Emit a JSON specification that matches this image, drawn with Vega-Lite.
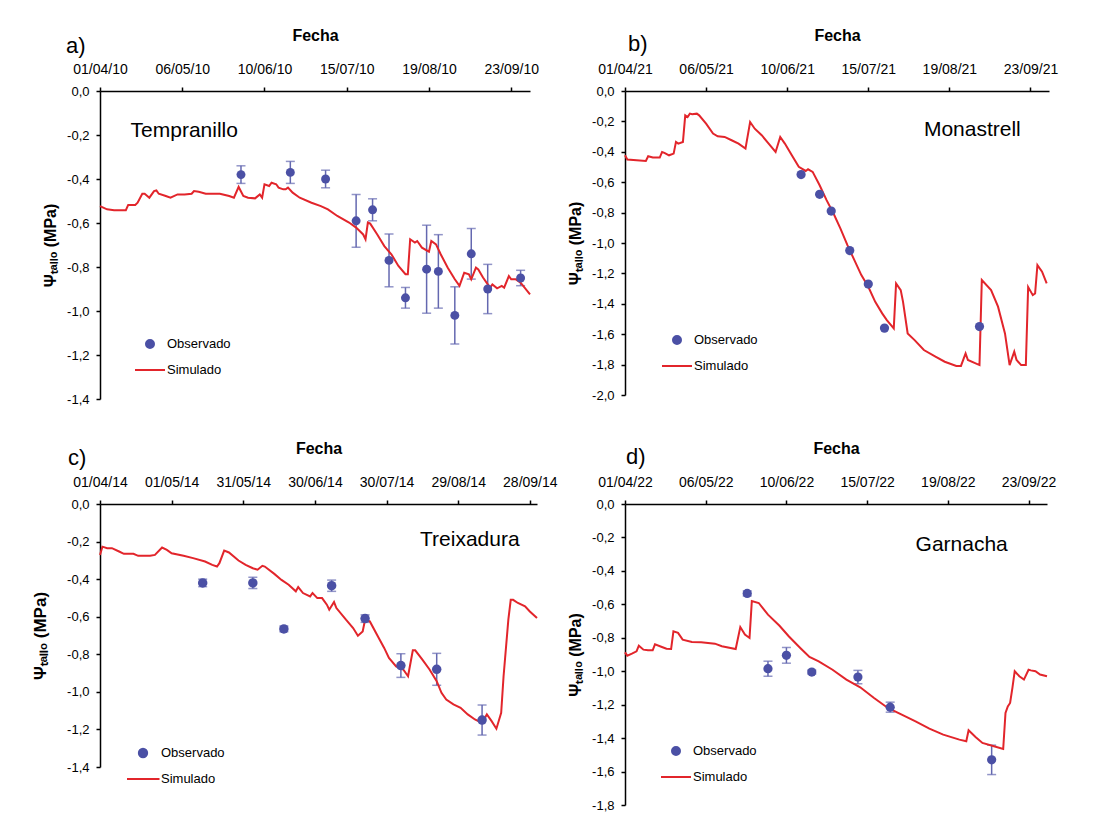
{
  "$schema": "https://vega.github.io/schema/vega-lite/v6.json",
  "background": "white",
  "padding": {"left": 31, "top": 27, "right": 5, "bottom": 5},
  "columns": 2,
  "bounds": "flush",
  "spacing": {"row": 105, "column": 88},
  "resolve": {"scale": {"color": "independent"}, "legend": {"color": "independent"}},
  "config": {
    "font": "Liberation Sans",
    "view": {"stroke": null},
    "axis": {"domainColor": "#000", "domainWidth": 1.5, "tickColor": "#000", "tickWidth": 1.5, "tickSize": 4, "labelColor": "#000", "labelFont": "Liberation Sans", "grid": false, "labelFlush": false, "labelOverlap": false, "labelBound": false, "titleColor": "#000", "titleFont": "Liberation Sans", "titleFontWeight": "bold"},
    "axisX": {"labelFontSize": 14, "labelPadding": 11, "titleFontSize": 16, "titlePadding": 19},
    "axisY": {"labelFontSize": 13, "labelPadding": 7, "titleFontSize": 16},
    "legend": {"labelFontSize": 13, "labelColor": "#000", "labelFont": "Liberation Sans", "symbolSize": 900, "clipHeight": 26, "rowPadding": 0, "padding": 0, "labelOffset": 4, "symbolStrokeWidth": 2},
    "title": {"font": "Liberation Sans", "fontSize": 22, "fontWeight": "normal", "color": "#000", "anchor": "start", "frame": "group", "offset": 0}
  },
  "datasets": {
    "obs_a": [
      {"fecha": "2010-05-31", "psi": -0.38, "err": 0.04, "serie": "Observado"},
      {"fecha": "2010-06-21", "psi": -0.37, "err": 0.05, "serie": "Observado"},
      {"fecha": "2010-07-06", "psi": -0.40, "err": 0.04, "serie": "Observado"},
      {"fecha": "2010-07-19", "psi": -0.59, "err": 0.12, "serie": "Observado"},
      {"fecha": "2010-07-26", "psi": -0.54, "err": 0.05, "serie": "Observado"},
      {"fecha": "2010-08-02", "psi": -0.77, "err": 0.12, "serie": "Observado"},
      {"fecha": "2010-08-09", "psi": -0.94, "err": 0.047, "serie": "Observado"},
      {"fecha": "2010-08-18", "psi": -0.81, "err": 0.20, "serie": "Observado"},
      {"fecha": "2010-08-23", "psi": -0.82, "err": 0.167, "serie": "Observado"},
      {"fecha": "2010-08-30", "psi": -1.02, "err": 0.13, "serie": "Observado"},
      {"fecha": "2010-09-06", "psi": -0.74, "err": 0.115, "serie": "Observado"},
      {"fecha": "2010-09-13", "psi": -0.90, "err": 0.112, "serie": "Observado"},
      {"fecha": "2010-09-27", "psi": -0.85, "err": 0.035, "serie": "Observado"}
    ],
    "sim_a": [
      {"fecha": "2010-04-01", "psi": -0.523, "serie": "Simulado"},
      {"fecha": "2010-04-04", "psi": -0.538, "serie": "Simulado"},
      {"fecha": "2010-04-07", "psi": -0.542, "serie": "Simulado"},
      {"fecha": "2010-04-12", "psi": -0.542, "serie": "Simulado"},
      {"fecha": "2010-04-13", "psi": -0.518, "serie": "Simulado"},
      {"fecha": "2010-04-16", "psi": -0.518, "serie": "Simulado"},
      {"fecha": "2010-04-17", "psi": -0.508, "serie": "Simulado"},
      {"fecha": "2010-04-19", "psi": -0.467, "serie": "Simulado"},
      {"fecha": "2010-04-20", "psi": -0.467, "serie": "Simulado"},
      {"fecha": "2010-04-22", "psi": -0.485, "serie": "Simulado"},
      {"fecha": "2010-04-24", "psi": -0.455, "serie": "Simulado"},
      {"fecha": "2010-04-25", "psi": -0.452, "serie": "Simulado"},
      {"fecha": "2010-04-26", "psi": -0.467, "serie": "Simulado"},
      {"fecha": "2010-04-29", "psi": -0.477, "serie": "Simulado"},
      {"fecha": "2010-05-01", "psi": -0.485, "serie": "Simulado"},
      {"fecha": "2010-05-04", "psi": -0.470, "serie": "Simulado"},
      {"fecha": "2010-05-07", "psi": -0.470, "serie": "Simulado"},
      {"fecha": "2010-05-10", "psi": -0.467, "serie": "Simulado"},
      {"fecha": "2010-05-11", "psi": -0.455, "serie": "Simulado"},
      {"fecha": "2010-05-13", "psi": -0.458, "serie": "Simulado"},
      {"fecha": "2010-05-16", "psi": -0.467, "serie": "Simulado"},
      {"fecha": "2010-05-22", "psi": -0.467, "serie": "Simulado"},
      {"fecha": "2010-05-26", "psi": -0.477, "serie": "Simulado"},
      {"fecha": "2010-05-28", "psi": -0.485, "serie": "Simulado"},
      {"fecha": "2010-05-30", "psi": -0.436, "serie": "Simulado"},
      {"fecha": "2010-06-01", "psi": -0.477, "serie": "Simulado"},
      {"fecha": "2010-06-03", "psi": -0.485, "serie": "Simulado"},
      {"fecha": "2010-06-06", "psi": -0.488, "serie": "Simulado"},
      {"fecha": "2010-06-08", "psi": -0.470, "serie": "Simulado"},
      {"fecha": "2010-06-09", "psi": -0.485, "serie": "Simulado"},
      {"fecha": "2010-06-10", "psi": -0.424, "serie": "Simulado"},
      {"fecha": "2010-06-12", "psi": -0.432, "serie": "Simulado"},
      {"fecha": "2010-06-13", "psi": -0.417, "serie": "Simulado"},
      {"fecha": "2010-06-15", "psi": -0.424, "serie": "Simulado"},
      {"fecha": "2010-06-16", "psi": -0.439, "serie": "Simulado"},
      {"fecha": "2010-06-18", "psi": -0.447, "serie": "Simulado"},
      {"fecha": "2010-06-19", "psi": -0.447, "serie": "Simulado"},
      {"fecha": "2010-06-20", "psi": -0.439, "serie": "Simulado"},
      {"fecha": "2010-06-22", "psi": -0.462, "serie": "Simulado"},
      {"fecha": "2010-06-25", "psi": -0.485, "serie": "Simulado"},
      {"fecha": "2010-06-30", "psi": -0.508, "serie": "Simulado"},
      {"fecha": "2010-07-04", "psi": -0.523, "serie": "Simulado"},
      {"fecha": "2010-07-07", "psi": -0.538, "serie": "Simulado"},
      {"fecha": "2010-07-11", "psi": -0.568, "serie": "Simulado"},
      {"fecha": "2010-07-16", "psi": -0.598, "serie": "Simulado"},
      {"fecha": "2010-07-19", "psi": -0.621, "serie": "Simulado"},
      {"fecha": "2010-07-22", "psi": -0.652, "serie": "Simulado"},
      {"fecha": "2010-07-23", "psi": -0.674, "serie": "Simulado"},
      {"fecha": "2010-07-24", "psi": -0.598, "serie": "Simulado"},
      {"fecha": "2010-07-25", "psi": -0.603, "serie": "Simulado"},
      {"fecha": "2010-07-28", "psi": -0.652, "serie": "Simulado"},
      {"fecha": "2010-07-31", "psi": -0.705, "serie": "Simulado"},
      {"fecha": "2010-08-03", "psi": -0.742, "serie": "Simulado"},
      {"fecha": "2010-08-06", "psi": -0.795, "serie": "Simulado"},
      {"fecha": "2010-08-09", "psi": -0.833, "serie": "Simulado"},
      {"fecha": "2010-08-10", "psi": -0.833, "serie": "Simulado"},
      {"fecha": "2010-08-11", "psi": -0.674, "serie": "Simulado"},
      {"fecha": "2010-08-13", "psi": -0.689, "serie": "Simulado"},
      {"fecha": "2010-08-14", "psi": -0.682, "serie": "Simulado"},
      {"fecha": "2010-08-16", "psi": -0.712, "serie": "Simulado"},
      {"fecha": "2010-08-19", "psi": -0.730, "serie": "Simulado"},
      {"fecha": "2010-08-20", "psi": -0.682, "serie": "Simulado"},
      {"fecha": "2010-08-22", "psi": -0.697, "serie": "Simulado"},
      {"fecha": "2010-08-24", "psi": -0.742, "serie": "Simulado"},
      {"fecha": "2010-08-27", "psi": -0.803, "serie": "Simulado"},
      {"fecha": "2010-08-30", "psi": -0.856, "serie": "Simulado"},
      {"fecha": "2010-09-01", "psi": -0.886, "serie": "Simulado"},
      {"fecha": "2010-09-03", "psi": -0.826, "serie": "Simulado"},
      {"fecha": "2010-09-05", "psi": -0.833, "serie": "Simulado"},
      {"fecha": "2010-09-06", "psi": -0.856, "serie": "Simulado"},
      {"fecha": "2010-09-08", "psi": -0.803, "serie": "Simulado"},
      {"fecha": "2010-09-09", "psi": -0.811, "serie": "Simulado"},
      {"fecha": "2010-09-11", "psi": -0.848, "serie": "Simulado"},
      {"fecha": "2010-09-14", "psi": -0.894, "serie": "Simulado"},
      {"fecha": "2010-09-15", "psi": -0.879, "serie": "Simulado"},
      {"fecha": "2010-09-17", "psi": -0.897, "serie": "Simulado"},
      {"fecha": "2010-09-19", "psi": -0.886, "serie": "Simulado"},
      {"fecha": "2010-09-20", "psi": -0.894, "serie": "Simulado"},
      {"fecha": "2010-09-22", "psi": -0.841, "serie": "Simulado"},
      {"fecha": "2010-09-23", "psi": -0.856, "serie": "Simulado"},
      {"fecha": "2010-09-25", "psi": -0.856, "serie": "Simulado"},
      {"fecha": "2010-09-27", "psi": -0.871, "serie": "Simulado"},
      {"fecha": "2010-10-01", "psi": -0.924, "serie": "Simulado"}
    ],
    "obs_b": [
      {"fecha": "2021-06-16", "psi": -0.55, "serie": "Observado"},
      {"fecha": "2021-06-24", "psi": -0.68, "serie": "Observado"},
      {"fecha": "2021-06-29", "psi": -0.79, "serie": "Observado"},
      {"fecha": "2021-07-07", "psi": -1.05, "serie": "Observado"},
      {"fecha": "2021-07-15", "psi": -1.27, "serie": "Observado"},
      {"fecha": "2021-07-22", "psi": -1.56, "serie": "Observado"},
      {"fecha": "2021-09-01", "psi": -1.55, "serie": "Observado"}
    ],
    "sim_b": [
      {"fecha": "2021-04-01", "psi": -0.423, "serie": "Simulado"},
      {"fecha": "2021-04-02", "psi": -0.451, "serie": "Simulado"},
      {"fecha": "2021-04-06", "psi": -0.456, "serie": "Simulado"},
      {"fecha": "2021-04-10", "psi": -0.460, "serie": "Simulado"},
      {"fecha": "2021-04-11", "psi": -0.429, "serie": "Simulado"},
      {"fecha": "2021-04-13", "psi": -0.438, "serie": "Simulado"},
      {"fecha": "2021-04-16", "psi": -0.438, "serie": "Simulado"},
      {"fecha": "2021-04-17", "psi": -0.401, "serie": "Simulado"},
      {"fecha": "2021-04-18", "psi": -0.407, "serie": "Simulado"},
      {"fecha": "2021-04-20", "psi": -0.423, "serie": "Simulado"},
      {"fecha": "2021-04-22", "psi": -0.412, "serie": "Simulado"},
      {"fecha": "2021-04-23", "psi": -0.335, "serie": "Simulado"},
      {"fecha": "2021-04-24", "psi": -0.346, "serie": "Simulado"},
      {"fecha": "2021-04-26", "psi": -0.335, "serie": "Simulado"},
      {"fecha": "2021-04-27", "psi": -0.160, "serie": "Simulado"},
      {"fecha": "2021-04-28", "psi": -0.171, "serie": "Simulado"},
      {"fecha": "2021-04-29", "psi": -0.149, "serie": "Simulado"},
      {"fecha": "2021-04-30", "psi": -0.153, "serie": "Simulado"},
      {"fecha": "2021-05-02", "psi": -0.149, "serie": "Simulado"},
      {"fecha": "2021-05-03", "psi": -0.160, "serie": "Simulado"},
      {"fecha": "2021-05-06", "psi": -0.215, "serie": "Simulado"},
      {"fecha": "2021-05-09", "psi": -0.280, "serie": "Simulado"},
      {"fecha": "2021-05-11", "psi": -0.298, "serie": "Simulado"},
      {"fecha": "2021-05-14", "psi": -0.302, "serie": "Simulado"},
      {"fecha": "2021-05-17", "psi": -0.324, "serie": "Simulado"},
      {"fecha": "2021-05-20", "psi": -0.346, "serie": "Simulado"},
      {"fecha": "2021-05-23", "psi": -0.379, "serie": "Simulado"},
      {"fecha": "2021-05-25", "psi": -0.204, "serie": "Simulado"},
      {"fecha": "2021-05-27", "psi": -0.248, "serie": "Simulado"},
      {"fecha": "2021-05-30", "psi": -0.291, "serie": "Simulado"},
      {"fecha": "2021-06-02", "psi": -0.346, "serie": "Simulado"},
      {"fecha": "2021-06-05", "psi": -0.401, "serie": "Simulado"},
      {"fecha": "2021-06-07", "psi": -0.302, "serie": "Simulado"},
      {"fecha": "2021-06-09", "psi": -0.346, "serie": "Simulado"},
      {"fecha": "2021-06-12", "psi": -0.423, "serie": "Simulado"},
      {"fecha": "2021-06-15", "psi": -0.499, "serie": "Simulado"},
      {"fecha": "2021-06-18", "psi": -0.526, "serie": "Simulado"},
      {"fecha": "2021-06-19", "psi": -0.515, "serie": "Simulado"},
      {"fecha": "2021-06-21", "psi": -0.532, "serie": "Simulado"},
      {"fecha": "2021-06-24", "psi": -0.620, "serie": "Simulado"},
      {"fecha": "2021-06-27", "psi": -0.718, "serie": "Simulado"},
      {"fecha": "2021-06-30", "psi": -0.806, "serie": "Simulado"},
      {"fecha": "2021-07-03", "psi": -0.905, "serie": "Simulado"},
      {"fecha": "2021-07-06", "psi": -1.014, "serie": "Simulado"},
      {"fecha": "2021-07-09", "psi": -1.113, "serie": "Simulado"},
      {"fecha": "2021-07-12", "psi": -1.211, "serie": "Simulado"},
      {"fecha": "2021-07-15", "psi": -1.288, "serie": "Simulado"},
      {"fecha": "2021-07-18", "psi": -1.387, "serie": "Simulado"},
      {"fecha": "2021-07-21", "psi": -1.463, "serie": "Simulado"},
      {"fecha": "2021-07-23", "psi": -1.507, "serie": "Simulado"},
      {"fecha": "2021-07-26", "psi": -1.562, "serie": "Simulado"},
      {"fecha": "2021-07-27", "psi": -1.266, "serie": "Simulado"},
      {"fecha": "2021-07-29", "psi": -1.310, "serie": "Simulado"},
      {"fecha": "2021-07-30", "psi": -1.387, "serie": "Simulado"},
      {"fecha": "2021-08-01", "psi": -1.595, "serie": "Simulado"},
      {"fecha": "2021-08-04", "psi": -1.639, "serie": "Simulado"},
      {"fecha": "2021-08-08", "psi": -1.704, "serie": "Simulado"},
      {"fecha": "2021-08-13", "psi": -1.748, "serie": "Simulado"},
      {"fecha": "2021-08-17", "psi": -1.781, "serie": "Simulado"},
      {"fecha": "2021-08-22", "psi": -1.809, "serie": "Simulado"},
      {"fecha": "2021-08-24", "psi": -1.809, "serie": "Simulado"},
      {"fecha": "2021-08-26", "psi": -1.726, "serie": "Simulado"},
      {"fecha": "2021-08-27", "psi": -1.770, "serie": "Simulado"},
      {"fecha": "2021-09-01", "psi": -1.803, "serie": "Simulado"},
      {"fecha": "2021-09-02", "psi": -1.244, "serie": "Simulado"},
      {"fecha": "2021-09-06", "psi": -1.310, "serie": "Simulado"},
      {"fecha": "2021-09-09", "psi": -1.419, "serie": "Simulado"},
      {"fecha": "2021-09-12", "psi": -1.595, "serie": "Simulado"},
      {"fecha": "2021-09-14", "psi": -1.803, "serie": "Simulado"},
      {"fecha": "2021-09-16", "psi": -1.715, "serie": "Simulado"},
      {"fecha": "2021-09-17", "psi": -1.770, "serie": "Simulado"},
      {"fecha": "2021-09-19", "psi": -1.803, "serie": "Simulado"},
      {"fecha": "2021-09-21", "psi": -1.803, "serie": "Simulado"},
      {"fecha": "2021-09-22", "psi": -1.290, "serie": "Simulado"},
      {"fecha": "2021-09-24", "psi": -1.343, "serie": "Simulado"},
      {"fecha": "2021-09-25", "psi": -1.332, "serie": "Simulado"},
      {"fecha": "2021-09-26", "psi": -1.146, "serie": "Simulado"},
      {"fecha": "2021-09-28", "psi": -1.189, "serie": "Simulado"},
      {"fecha": "2021-09-30", "psi": -1.266, "serie": "Simulado"}
    ],
    "obs_c": [
      {"fecha": "2014-05-14", "psi": -0.42, "err": 0.02, "serie": "Observado"},
      {"fecha": "2014-06-04", "psi": -0.42, "err": 0.03, "serie": "Observado"},
      {"fecha": "2014-06-17", "psi": -0.665, "err": 0.015, "serie": "Observado"},
      {"fecha": "2014-07-07", "psi": -0.435, "err": 0.03, "serie": "Observado"},
      {"fecha": "2014-07-21", "psi": -0.61, "err": 0.02, "serie": "Observado"},
      {"fecha": "2014-08-05", "psi": -0.86, "err": 0.063, "serie": "Observado"},
      {"fecha": "2014-08-20", "psi": -0.88, "err": 0.085, "serie": "Observado"},
      {"fecha": "2014-09-08", "psi": -1.15, "err": 0.08, "serie": "Observado"}
    ],
    "sim_c": [
      {"fecha": "2014-04-01", "psi": -0.271, "serie": "Simulado"},
      {"fecha": "2014-04-02", "psi": -0.227, "serie": "Simulado"},
      {"fecha": "2014-04-04", "psi": -0.235, "serie": "Simulado"},
      {"fecha": "2014-04-06", "psi": -0.235, "serie": "Simulado"},
      {"fecha": "2014-04-09", "psi": -0.253, "serie": "Simulado"},
      {"fecha": "2014-04-11", "psi": -0.265, "serie": "Simulado"},
      {"fecha": "2014-04-15", "psi": -0.265, "serie": "Simulado"},
      {"fecha": "2014-04-17", "psi": -0.276, "serie": "Simulado"},
      {"fecha": "2014-04-22", "psi": -0.276, "serie": "Simulado"},
      {"fecha": "2014-04-24", "psi": -0.271, "serie": "Simulado"},
      {"fecha": "2014-04-27", "psi": -0.232, "serie": "Simulado"},
      {"fecha": "2014-04-29", "psi": -0.244, "serie": "Simulado"},
      {"fecha": "2014-05-01", "psi": -0.262, "serie": "Simulado"},
      {"fecha": "2014-05-06", "psi": -0.276, "serie": "Simulado"},
      {"fecha": "2014-05-10", "psi": -0.288, "serie": "Simulado"},
      {"fecha": "2014-05-15", "psi": -0.306, "serie": "Simulado"},
      {"fecha": "2014-05-18", "psi": -0.324, "serie": "Simulado"},
      {"fecha": "2014-05-20", "psi": -0.333, "serie": "Simulado"},
      {"fecha": "2014-05-21", "psi": -0.315, "serie": "Simulado"},
      {"fecha": "2014-05-23", "psi": -0.248, "serie": "Simulado"},
      {"fecha": "2014-05-25", "psi": -0.258, "serie": "Simulado"},
      {"fecha": "2014-05-29", "psi": -0.301, "serie": "Simulado"},
      {"fecha": "2014-06-01", "psi": -0.324, "serie": "Simulado"},
      {"fecha": "2014-06-04", "psi": -0.342, "serie": "Simulado"},
      {"fecha": "2014-06-06", "psi": -0.350, "serie": "Simulado"},
      {"fecha": "2014-06-08", "psi": -0.329, "serie": "Simulado"},
      {"fecha": "2014-06-09", "psi": -0.333, "serie": "Simulado"},
      {"fecha": "2014-06-13", "psi": -0.372, "serie": "Simulado"},
      {"fecha": "2014-06-16", "psi": -0.404, "serie": "Simulado"},
      {"fecha": "2014-06-19", "psi": -0.430, "serie": "Simulado"},
      {"fecha": "2014-06-22", "psi": -0.465, "serie": "Simulado"},
      {"fecha": "2014-06-23", "psi": -0.442, "serie": "Simulado"},
      {"fecha": "2014-06-25", "psi": -0.474, "serie": "Simulado"},
      {"fecha": "2014-06-28", "psi": -0.492, "serie": "Simulado"},
      {"fecha": "2014-06-29", "psi": -0.474, "serie": "Simulado"},
      {"fecha": "2014-07-01", "psi": -0.501, "serie": "Simulado"},
      {"fecha": "2014-07-03", "psi": -0.501, "serie": "Simulado"},
      {"fecha": "2014-07-05", "psi": -0.536, "serie": "Simulado"},
      {"fecha": "2014-07-06", "psi": -0.563, "serie": "Simulado"},
      {"fecha": "2014-07-08", "psi": -0.522, "serie": "Simulado"},
      {"fecha": "2014-07-09", "psi": -0.554, "serie": "Simulado"},
      {"fecha": "2014-07-13", "psi": -0.616, "serie": "Simulado"},
      {"fecha": "2014-07-16", "psi": -0.660, "serie": "Simulado"},
      {"fecha": "2014-07-18", "psi": -0.701, "serie": "Simulado"},
      {"fecha": "2014-07-20", "psi": -0.678, "serie": "Simulado"},
      {"fecha": "2014-07-21", "psi": -0.616, "serie": "Simulado"},
      {"fecha": "2014-07-23", "psi": -0.625, "serie": "Simulado"},
      {"fecha": "2014-07-26", "psi": -0.696, "serie": "Simulado"},
      {"fecha": "2014-07-29", "psi": -0.766, "serie": "Simulado"},
      {"fecha": "2014-07-31", "psi": -0.819, "serie": "Simulado"},
      {"fecha": "2014-08-03", "psi": -0.864, "serie": "Simulado"},
      {"fecha": "2014-08-06", "psi": -0.881, "serie": "Simulado"},
      {"fecha": "2014-08-08", "psi": -0.917, "serie": "Simulado"},
      {"fecha": "2014-08-10", "psi": -0.779, "serie": "Simulado"},
      {"fecha": "2014-08-11", "psi": -0.779, "serie": "Simulado"},
      {"fecha": "2014-08-14", "psi": -0.828, "serie": "Simulado"},
      {"fecha": "2014-08-17", "psi": -0.881, "serie": "Simulado"},
      {"fecha": "2014-08-20", "psi": -0.943, "serie": "Simulado"},
      {"fecha": "2014-08-22", "psi": -1.005, "serie": "Simulado"},
      {"fecha": "2014-08-24", "psi": -1.041, "serie": "Simulado"},
      {"fecha": "2014-08-27", "psi": -1.067, "serie": "Simulado"},
      {"fecha": "2014-08-30", "psi": -1.085, "serie": "Simulado"},
      {"fecha": "2014-09-02", "psi": -1.120, "serie": "Simulado"},
      {"fecha": "2014-09-05", "psi": -1.147, "serie": "Simulado"},
      {"fecha": "2014-09-08", "psi": -1.165, "serie": "Simulado"},
      {"fecha": "2014-09-10", "psi": -1.120, "serie": "Simulado"},
      {"fecha": "2014-09-12", "psi": -1.156, "serie": "Simulado"},
      {"fecha": "2014-09-14", "psi": -1.196, "serie": "Simulado"},
      {"fecha": "2014-09-16", "psi": -1.112, "serie": "Simulado"},
      {"fecha": "2014-09-17", "psi": -0.917, "serie": "Simulado"},
      {"fecha": "2014-09-19", "psi": -0.616, "serie": "Simulado"},
      {"fecha": "2014-09-20", "psi": -0.510, "serie": "Simulado"},
      {"fecha": "2014-09-21", "psi": -0.510, "serie": "Simulado"},
      {"fecha": "2014-09-23", "psi": -0.527, "serie": "Simulado"},
      {"fecha": "2014-09-26", "psi": -0.545, "serie": "Simulado"},
      {"fecha": "2014-09-28", "psi": -0.572, "serie": "Simulado"},
      {"fecha": "2014-10-01", "psi": -0.607, "serie": "Simulado"}
    ],
    "obs_d": [
      {"fecha": "2022-05-24", "psi": -0.535, "err": 0.015, "serie": "Observado"},
      {"fecha": "2022-06-02", "psi": -0.985, "err": 0.045, "serie": "Observado"},
      {"fecha": "2022-06-10", "psi": -0.905, "err": 0.047, "serie": "Observado"},
      {"fecha": "2022-06-21", "psi": -1.005, "err": 0.012, "serie": "Observado"},
      {"fecha": "2022-07-11", "psi": -1.035, "err": 0.04, "serie": "Observado"},
      {"fecha": "2022-07-25", "psi": -1.215, "err": 0.03, "serie": "Observado"},
      {"fecha": "2022-09-07", "psi": -1.53, "err": 0.088, "serie": "Observado"}
    ],
    "sim_d": [
      {"fecha": "2022-04-01", "psi": -0.887, "serie": "Simulado"},
      {"fecha": "2022-04-02", "psi": -0.907, "serie": "Simulado"},
      {"fecha": "2022-04-04", "psi": -0.895, "serie": "Simulado"},
      {"fecha": "2022-04-06", "psi": -0.881, "serie": "Simulado"},
      {"fecha": "2022-04-07", "psi": -0.847, "serie": "Simulado"},
      {"fecha": "2022-04-09", "psi": -0.871, "serie": "Simulado"},
      {"fecha": "2022-04-11", "psi": -0.875, "serie": "Simulado"},
      {"fecha": "2022-04-13", "psi": -0.875, "serie": "Simulado"},
      {"fecha": "2022-04-14", "psi": -0.839, "serie": "Simulado"},
      {"fecha": "2022-04-17", "psi": -0.855, "serie": "Simulado"},
      {"fecha": "2022-04-19", "psi": -0.865, "serie": "Simulado"},
      {"fecha": "2022-04-21", "psi": -0.867, "serie": "Simulado"},
      {"fecha": "2022-04-22", "psi": -0.761, "serie": "Simulado"},
      {"fecha": "2022-04-24", "psi": -0.771, "serie": "Simulado"},
      {"fecha": "2022-04-26", "psi": -0.811, "serie": "Simulado"},
      {"fecha": "2022-04-30", "psi": -0.825, "serie": "Simulado"},
      {"fecha": "2022-05-04", "psi": -0.827, "serie": "Simulado"},
      {"fecha": "2022-05-10", "psi": -0.835, "serie": "Simulado"},
      {"fecha": "2022-05-13", "psi": -0.851, "serie": "Simulado"},
      {"fecha": "2022-05-19", "psi": -0.867, "serie": "Simulado"},
      {"fecha": "2022-05-21", "psi": -0.736, "serie": "Simulado"},
      {"fecha": "2022-05-23", "psi": -0.781, "serie": "Simulado"},
      {"fecha": "2022-05-25", "psi": -0.801, "serie": "Simulado"},
      {"fecha": "2022-05-26", "psi": -0.580, "serie": "Simulado"},
      {"fecha": "2022-05-29", "psi": -0.592, "serie": "Simulado"},
      {"fecha": "2022-06-02", "psi": -0.662, "serie": "Simulado"},
      {"fecha": "2022-06-07", "psi": -0.728, "serie": "Simulado"},
      {"fecha": "2022-06-11", "psi": -0.791, "serie": "Simulado"},
      {"fecha": "2022-06-16", "psi": -0.861, "serie": "Simulado"},
      {"fecha": "2022-06-20", "psi": -0.915, "serie": "Simulado"},
      {"fecha": "2022-06-24", "psi": -0.941, "serie": "Simulado"},
      {"fecha": "2022-06-30", "psi": -0.991, "serie": "Simulado"},
      {"fecha": "2022-07-06", "psi": -1.050, "serie": "Simulado"},
      {"fecha": "2022-07-12", "psi": -1.096, "serie": "Simulado"},
      {"fecha": "2022-07-18", "psi": -1.160, "serie": "Simulado"},
      {"fecha": "2022-07-24", "psi": -1.220, "serie": "Simulado"},
      {"fecha": "2022-07-30", "psi": -1.260, "serie": "Simulado"},
      {"fecha": "2022-08-05", "psi": -1.300, "serie": "Simulado"},
      {"fecha": "2022-08-11", "psi": -1.343, "serie": "Simulado"},
      {"fecha": "2022-08-17", "psi": -1.379, "serie": "Simulado"},
      {"fecha": "2022-08-24", "psi": -1.409, "serie": "Simulado"},
      {"fecha": "2022-08-27", "psi": -1.419, "serie": "Simulado"},
      {"fecha": "2022-08-28", "psi": -1.353, "serie": "Simulado"},
      {"fecha": "2022-08-31", "psi": -1.393, "serie": "Simulado"},
      {"fecha": "2022-09-03", "psi": -1.429, "serie": "Simulado"},
      {"fecha": "2022-09-08", "psi": -1.449, "serie": "Simulado"},
      {"fecha": "2022-09-12", "psi": -1.465, "serie": "Simulado"},
      {"fecha": "2022-09-13", "psi": -1.250, "serie": "Simulado"},
      {"fecha": "2022-09-14", "psi": -1.210, "serie": "Simulado"},
      {"fecha": "2022-09-15", "psi": -1.190, "serie": "Simulado"},
      {"fecha": "2022-09-16", "psi": -1.100, "serie": "Simulado"},
      {"fecha": "2022-09-17", "psi": -1.000, "serie": "Simulado"},
      {"fecha": "2022-09-19", "psi": -1.030, "serie": "Simulado"},
      {"fecha": "2022-09-21", "psi": -1.050, "serie": "Simulado"},
      {"fecha": "2022-09-23", "psi": -0.991, "serie": "Simulado"},
      {"fecha": "2022-09-24", "psi": -0.995, "serie": "Simulado"},
      {"fecha": "2022-09-26", "psi": -1.000, "serie": "Simulado"},
      {"fecha": "2022-09-28", "psi": -1.020, "serie": "Simulado"},
      {"fecha": "2022-10-01", "psi": -1.030, "serie": "Simulado"}
    ]
  },
  "concat": [
    {
      "width": 430, "height": 308,
      "title": {"text": "a)", "dx": -34, "dy": 35},
      "layer": [
        {"data": {"name": "obs_a"}, "mark": {"type": "errorbar", "color": "#6468b0", "thickness": 1.5, "ticks": {"size": 9}},
         "encoding": {
          "x": {"field": "fecha", "type": "temporal", "scale": {"type": "utc", "domain": [{"year": 2010, "month": 4, "date": 1, "utc": true}, {"year": 2010, "month": 10, "date": 1, "utc": true}]}, "axis": {"orient": "top", "title": "Fecha", "format": "%d/%m/%y", "labelOverlap": false, "tickCount": 40, "values": [{"year": 2010, "month": 4, "date": 1, "utc": true}, {"year": 2010, "month": 5, "date": 6, "utc": true}, {"year": 2010, "month": 6, "date": 10, "utc": true}, {"year": 2010, "month": 7, "date": 15, "utc": true}, {"year": 2010, "month": 8, "date": 19, "utc": true}, {"year": 2010, "month": 9, "date": 23, "utc": true}]}},
          "y": {"field": "psi", "type": "quantitative", "scale": {"domain": [-1.4, 0], "nice": false, "zero": false}, "axis": {"title": "Ψₜₐₗₗₒ (MPa)", "titlePadding": 8, "labelOverlap": false, "tickCount": 40, "values": [0, -0.2, -0.4, -0.6, -0.8, -1.0, -1.2, -1.4], "labelExpr": "replace(replace(format(datum.value, '.1f'), '.', ','), '\u2212', '-')"}},
          "yError": {"field": "err"}}},
        {"data": {"name": "sim_a"}, "mark": {"type": "line", "strokeWidth": 2},
         "encoding": {
          "x": {"field": "fecha", "type": "temporal"},
          "y": {"field": "psi", "type": "quantitative", "title": "Ψₜₐₗₗₒ (MPa)"},
          "color": {"field": "serie", "type": "nominal", "scale": {"domain": ["Observado", "Simulado"], "range": ["#4b50a5", "#e2252b"]}, "legend": {"title": null, "orient": "none", "legendX": 35, "legendY": 240, "encode": {"symbols": {"update": {"x": {"value": 15}, "shape": {"signal": "datum.value === 'Simulado' ? 'stroke' : 'circle'"}, "size": {"signal": "datum.value === 'Simulado' ? 900 : 64"}, "fill": {"signal": "datum.value === 'Simulado' ? 'transparent' : '#4b50a5'"}, "stroke": {"signal": "datum.value === 'Simulado' ? '#e2252b' : 'transparent'"}, "strokeWidth": {"value": 2}, "opacity": {"value": 1}}}, "labels": {"update": {"x": {"value": 32}}}}}}}},
        {"data": {"name": "obs_a"}, "mark": {"type": "point", "filled": true, "size": 80, "opacity": 1},
         "encoding": {
          "x": {"field": "fecha", "type": "temporal"},
          "y": {"field": "psi", "type": "quantitative", "title": "Ψₜₐₗₗₒ (MPa)"},
          "color": {"field": "serie", "type": "nominal", "scale": {"domain": ["Observado", "Simulado"], "range": ["#4b50a5", "#e2252b"]}, "legend": {"title": null, "orient": "none", "legendX": 35, "legendY": 240, "encode": {"symbols": {"update": {"x": {"value": 15}, "shape": {"signal": "datum.value === 'Simulado' ? 'stroke' : 'circle'"}, "size": {"signal": "datum.value === 'Simulado' ? 900 : 64"}, "fill": {"signal": "datum.value === 'Simulado' ? 'transparent' : '#4b50a5'"}, "stroke": {"signal": "datum.value === 'Simulado' ? '#e2252b' : 'transparent'"}, "strokeWidth": {"value": 2}, "opacity": {"value": 1}}}, "labels": {"update": {"x": {"value": 32}}}}}}}},
        {"data": {"values": [{"texto": "Tempranillo"}]}, "mark": {"type": "text", "fontSize": 21, "align": "left", "baseline": "middle", "color": "#000"},
         "encoding": {"x": {"datum": {"year": 2010, "month": 4, "date": 14, "utc": true}, "type": "temporal"}, "y": {"datum": -0.182, "type": "quantitative"}, "text": {"field": "texto"}}}
      ]
    },
    {
      "width": 424, "height": 304,
      "title": {"text": "b)", "dx": 3, "dy": 33},
      "layer": [
        {"data": {"name": "sim_b"}, "mark": {"type": "line", "strokeWidth": 2},
         "encoding": {
          "x": {"field": "fecha", "type": "temporal", "scale": {"type": "utc", "domain": [{"year": 2021, "month": 4, "date": 1, "utc": true}, {"year": 2021, "month": 10, "date": 1, "utc": true}]}, "axis": {"orient": "top", "title": "Fecha", "format": "%d/%m/%y", "labelOverlap": false, "tickCount": 40, "values": [{"year": 2021, "month": 4, "date": 1, "utc": true}, {"year": 2021, "month": 5, "date": 6, "utc": true}, {"year": 2021, "month": 6, "date": 10, "utc": true}, {"year": 2021, "month": 7, "date": 15, "utc": true}, {"year": 2021, "month": 8, "date": 19, "utc": true}, {"year": 2021, "month": 9, "date": 23, "utc": true}]}},
          "y": {"field": "psi", "type": "quantitative", "scale": {"domain": [-2.0, 0], "nice": false, "zero": false}, "axis": {"title": "Ψₜₐₗₗₒ (MPa)", "titlePadding": 8, "labelOverlap": false, "tickCount": 40, "values": [0, -0.2, -0.4, -0.6, -0.8, -1.0, -1.2, -1.4, -1.6, -1.8, -2.0], "labelExpr": "replace(replace(format(datum.value, '.1f'), '.', ','), '\u2212', '-')"}},
          "color": {"field": "serie", "type": "nominal", "scale": {"domain": ["Observado", "Simulado"], "range": ["#4b50a5", "#e2252b"]}, "legend": {"title": null, "orient": "none", "legendX": 37, "legendY": 236, "encode": {"symbols": {"update": {"x": {"value": 15}, "shape": {"signal": "datum.value === 'Simulado' ? 'stroke' : 'circle'"}, "size": {"signal": "datum.value === 'Simulado' ? 900 : 64"}, "fill": {"signal": "datum.value === 'Simulado' ? 'transparent' : '#4b50a5'"}, "stroke": {"signal": "datum.value === 'Simulado' ? '#e2252b' : 'transparent'"}, "strokeWidth": {"value": 2}, "opacity": {"value": 1}}}, "labels": {"update": {"x": {"value": 32}}}}}}}},
        {"data": {"name": "obs_b"}, "mark": {"type": "point", "filled": true, "size": 85, "opacity": 1},
         "encoding": {
          "x": {"field": "fecha", "type": "temporal"},
          "y": {"field": "psi", "type": "quantitative", "title": "Ψₜₐₗₗₒ (MPa)"},
          "color": {"field": "serie", "type": "nominal", "scale": {"domain": ["Observado", "Simulado"], "range": ["#4b50a5", "#e2252b"]}, "legend": {"title": null, "orient": "none", "legendX": 37, "legendY": 236, "encode": {"symbols": {"update": {"x": {"value": 15}, "shape": {"signal": "datum.value === 'Simulado' ? 'stroke' : 'circle'"}, "size": {"signal": "datum.value === 'Simulado' ? 900 : 64"}, "fill": {"signal": "datum.value === 'Simulado' ? 'transparent' : '#4b50a5'"}, "stroke": {"signal": "datum.value === 'Simulado' ? '#e2252b' : 'transparent'"}, "strokeWidth": {"value": 2}, "opacity": {"value": 1}}}, "labels": {"update": {"x": {"value": 32}}}}}}}},
        {"data": {"values": [{"texto": "Monastrell"}]}, "mark": {"type": "text", "fontSize": 21, "align": "left", "baseline": "middle", "color": "#000"},
         "encoding": {"x": {"datum": {"year": 2021, "month": 8, "date": 8, "utc": true}, "type": "temporal"}, "y": {"datum": -0.258, "type": "quantitative"}, "text": {"field": "texto"}}}
      ]
    },
    {
      "width": 437, "height": 263,
      "title": {"text": "c)", "dx": -32, "dy": 34},
      "layer": [
        {"data": {"name": "obs_c"}, "mark": {"type": "errorbar", "color": "#6468b0", "thickness": 1.5, "ticks": {"size": 9}},
         "encoding": {
          "x": {"field": "fecha", "type": "temporal", "scale": {"type": "utc", "domain": [{"year": 2014, "month": 4, "date": 1, "utc": true}, {"year": 2014, "month": 10, "date": 1, "utc": true}]}, "axis": {"orient": "top", "title": "Fecha", "format": "%d/%m/%y", "labelOverlap": false, "tickCount": 40, "values": [{"year": 2014, "month": 4, "date": 1, "utc": true}, {"year": 2014, "month": 5, "date": 1, "utc": true}, {"year": 2014, "month": 5, "date": 31, "utc": true}, {"year": 2014, "month": 6, "date": 30, "utc": true}, {"year": 2014, "month": 7, "date": 30, "utc": true}, {"year": 2014, "month": 8, "date": 29, "utc": true}, {"year": 2014, "month": 9, "date": 28, "utc": true}]}},
          "y": {"field": "psi", "type": "quantitative", "scale": {"domain": [-1.4, 0], "nice": false, "zero": false}, "axis": {"title": "Ψₜₐₗₗₒ (MPa)", "titlePadding": 17, "titleFontSize": 17, "labelOverlap": false, "tickCount": 40, "values": [0, -0.2, -0.4, -0.6, -0.8, -1.0, -1.2, -1.4], "labelExpr": "replace(replace(format(datum.value, '.1f'), '.', ','), '\u2212', '-')"}},
          "yError": {"field": "err"}}},
        {"data": {"name": "sim_c"}, "mark": {"type": "line", "strokeWidth": 2},
         "encoding": {
          "x": {"field": "fecha", "type": "temporal"},
          "y": {"field": "psi", "type": "quantitative", "title": "Ψₜₐₗₗₒ (MPa)"},
          "color": {"field": "serie", "type": "nominal", "scale": {"domain": ["Observado", "Simulado"], "range": ["#4b50a5", "#e2252b"]}, "legend": {"title": null, "orient": "none", "legendX": 27, "legendY": 236, "encode": {"symbols": {"update": {"x": {"value": 16}, "shape": {"signal": "datum.value === 'Simulado' ? 'stroke' : 'circle'"}, "size": {"signal": "datum.value === 'Simulado' ? 1089 : 70"}, "fill": {"signal": "datum.value === 'Simulado' ? 'transparent' : '#4b50a5'"}, "stroke": {"signal": "datum.value === 'Simulado' ? '#e2252b' : 'transparent'"}, "strokeWidth": {"value": 2}, "opacity": {"value": 1}}}, "labels": {"update": {"x": {"value": 34}}}}}}}},
        {"data": {"name": "obs_c"}, "mark": {"type": "point", "filled": true, "size": 90, "opacity": 1},
         "encoding": {
          "x": {"field": "fecha", "type": "temporal"},
          "y": {"field": "psi", "type": "quantitative", "title": "Ψₜₐₗₗₒ (MPa)"},
          "color": {"field": "serie", "type": "nominal", "scale": {"domain": ["Observado", "Simulado"], "range": ["#4b50a5", "#e2252b"]}, "legend": {"title": null, "orient": "none", "legendX": 27, "legendY": 236, "encode": {"symbols": {"update": {"x": {"value": 16}, "shape": {"signal": "datum.value === 'Simulado' ? 'stroke' : 'circle'"}, "size": {"signal": "datum.value === 'Simulado' ? 1089 : 70"}, "fill": {"signal": "datum.value === 'Simulado' ? 'transparent' : '#4b50a5'"}, "stroke": {"signal": "datum.value === 'Simulado' ? '#e2252b' : 'transparent'"}, "strokeWidth": {"value": 2}, "opacity": {"value": 1}}}, "labels": {"update": {"x": {"value": 34}}}}}}}},
        {"data": {"values": [{"texto": "Treixadura"}]}, "mark": {"type": "text", "fontSize": 21, "align": "left", "baseline": "middle", "color": "#000"},
         "encoding": {"x": {"datum": {"year": 2014, "month": 8, "date": 13, "utc": true}, "type": "temporal"}, "y": {"datum": -0.191, "type": "quantitative"}, "text": {"field": "texto"}}}
      ]
    },
    {
      "width": 422, "height": 301,
      "title": {"text": "d)", "dx": 1, "dy": 33},
      "layer": [
        {"data": {"name": "obs_d"}, "mark": {"type": "errorbar", "color": "#6468b0", "thickness": 1.5, "ticks": {"size": 9}},
         "encoding": {
          "x": {"field": "fecha", "type": "temporal", "scale": {"type": "utc", "domain": [{"year": 2022, "month": 4, "date": 1, "utc": true}, {"year": 2022, "month": 10, "date": 1, "utc": true}]}, "axis": {"orient": "top", "title": "Fecha", "format": "%d/%m/%y", "labelOverlap": false, "tickCount": 40, "values": [{"year": 2022, "month": 4, "date": 1, "utc": true}, {"year": 2022, "month": 5, "date": 6, "utc": true}, {"year": 2022, "month": 6, "date": 10, "utc": true}, {"year": 2022, "month": 7, "date": 15, "utc": true}, {"year": 2022, "month": 8, "date": 19, "utc": true}, {"year": 2022, "month": 9, "date": 23, "utc": true}]}},
          "y": {"field": "psi", "type": "quantitative", "scale": {"domain": [-1.8, 0], "nice": false, "zero": false}, "axis": {"title": "Ψₜₐₗₗₒ (MPa)", "titlePadding": 8, "labelOverlap": false, "tickCount": 40, "values": [0, -0.2, -0.4, -0.6, -0.8, -1.0, -1.2, -1.4, -1.6, -1.8], "labelExpr": "replace(replace(format(datum.value, '.1f'), '.', ','), '\u2212', '-')"}},
          "yError": {"field": "err"}}},
        {"data": {"name": "sim_d"}, "mark": {"type": "line", "strokeWidth": 2},
         "encoding": {
          "x": {"field": "fecha", "type": "temporal"},
          "y": {"field": "psi", "type": "quantitative", "title": "Ψₜₐₗₗₒ (MPa)"},
          "color": {"field": "serie", "type": "nominal", "scale": {"domain": ["Observado", "Simulado"], "range": ["#4b50a5", "#e2252b"]}, "legend": {"title": null, "orient": "none", "legendX": 36, "legendY": 234, "encode": {"symbols": {"update": {"x": {"value": 15}, "shape": {"signal": "datum.value === 'Simulado' ? 'stroke' : 'circle'"}, "size": {"signal": "datum.value === 'Simulado' ? 900 : 64"}, "fill": {"signal": "datum.value === 'Simulado' ? 'transparent' : '#4b50a5'"}, "stroke": {"signal": "datum.value === 'Simulado' ? '#e2252b' : 'transparent'"}, "strokeWidth": {"value": 2}, "opacity": {"value": 1}}}, "labels": {"update": {"x": {"value": 32}}}}}}}},
        {"data": {"name": "obs_d"}, "mark": {"type": "point", "filled": true, "size": 85, "opacity": 1},
         "encoding": {
          "x": {"field": "fecha", "type": "temporal"},
          "y": {"field": "psi", "type": "quantitative", "title": "Ψₜₐₗₗₒ (MPa)"},
          "color": {"field": "serie", "type": "nominal", "scale": {"domain": ["Observado", "Simulado"], "range": ["#4b50a5", "#e2252b"]}, "legend": {"title": null, "orient": "none", "legendX": 36, "legendY": 234, "encode": {"symbols": {"update": {"x": {"value": 15}, "shape": {"signal": "datum.value === 'Simulado' ? 'stroke' : 'circle'"}, "size": {"signal": "datum.value === 'Simulado' ? 900 : 64"}, "fill": {"signal": "datum.value === 'Simulado' ? 'transparent' : '#4b50a5'"}, "stroke": {"signal": "datum.value === 'Simulado' ? '#e2252b' : 'transparent'"}, "strokeWidth": {"value": 2}, "opacity": {"value": 1}}}, "labels": {"update": {"x": {"value": 32}}}}}}}},
        {"data": {"values": [{"texto": "Garnacha"}]}, "mark": {"type": "text", "fontSize": 21, "align": "left", "baseline": "middle", "color": "#000"},
         "encoding": {"x": {"datum": {"year": 2022, "month": 8, "date": 5, "utc": true}, "type": "temporal"}, "y": {"datum": -0.243, "type": "quantitative"}, "text": {"field": "texto"}}}
      ]
    }
  ]
}
